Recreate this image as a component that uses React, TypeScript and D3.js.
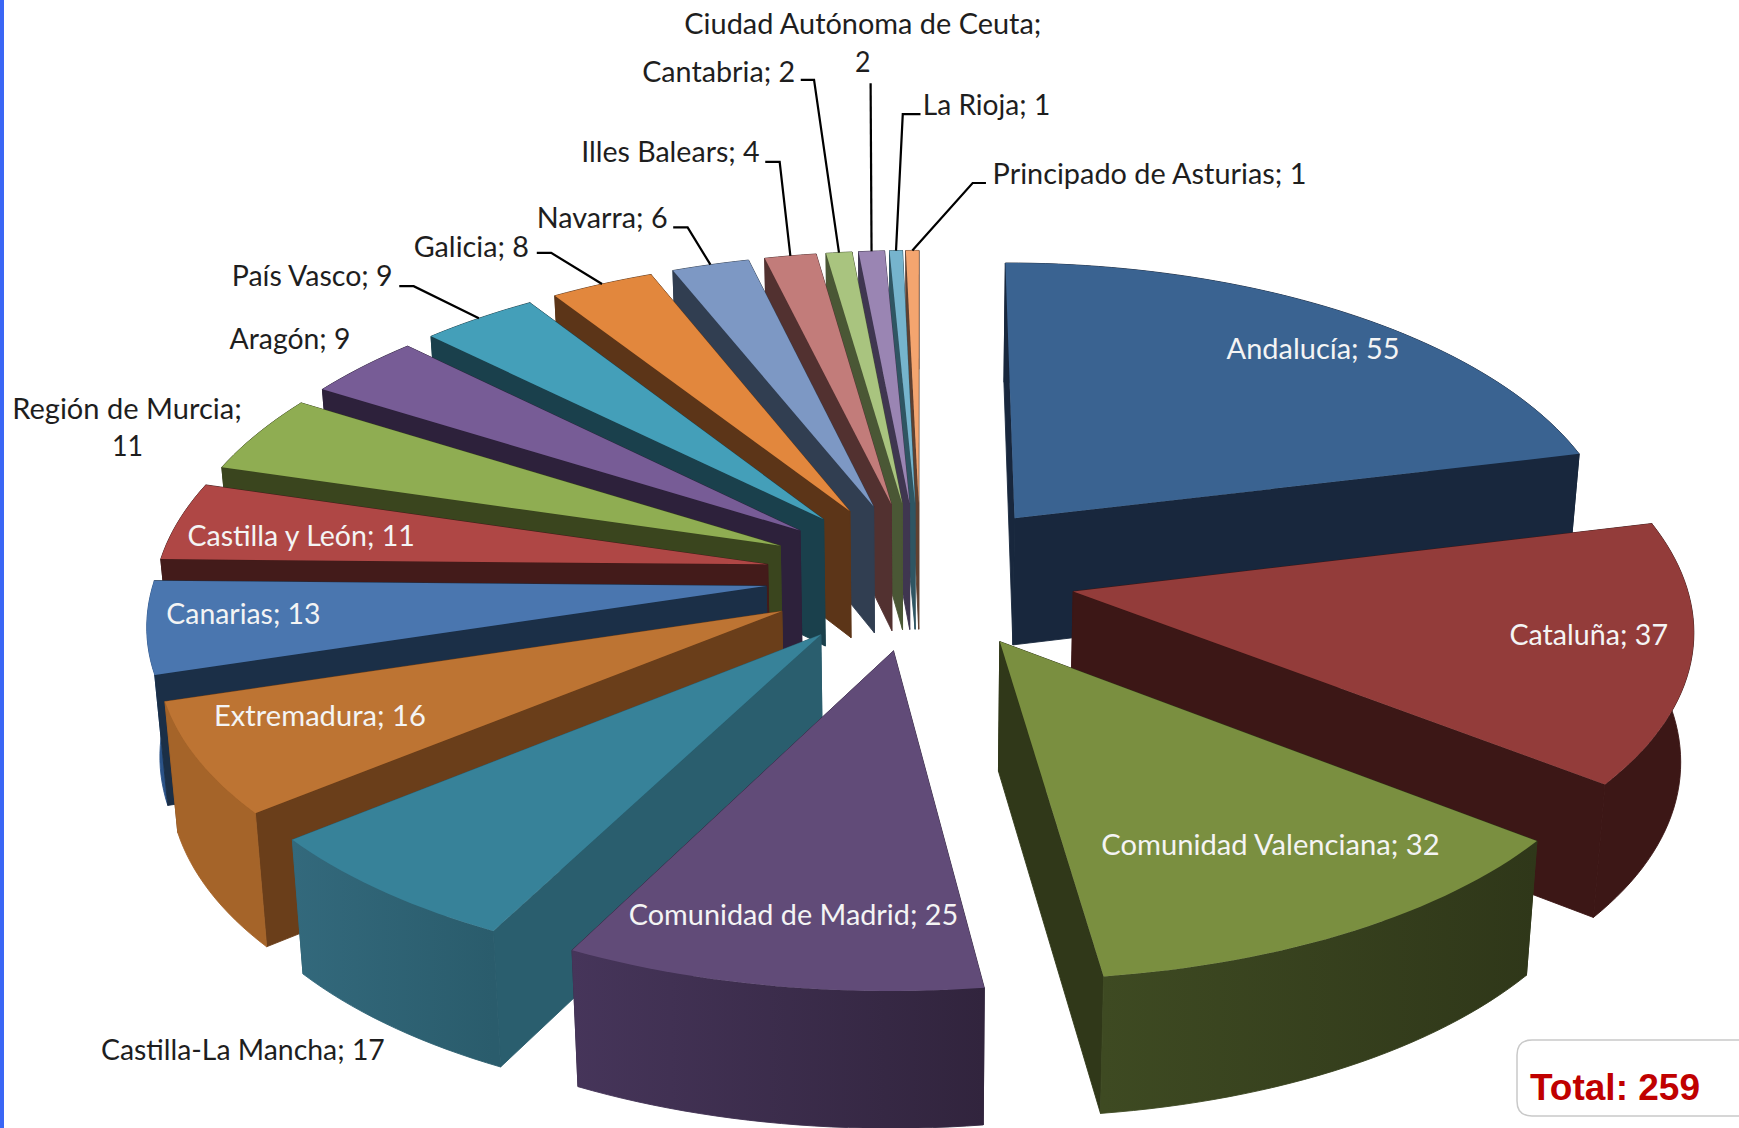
import React from "react";
import * as d3 from "d3";

const regions = ["Andalucía","Cataluña","Comunidad Valenciana","Comunidad de Madrid","Castilla-La Mancha","Extremadura","Canarias","Castilla y León","Región de Murcia","Aragón","País Vasco","Galicia","Navarra","Illes Balears","Cantabria","Ciudad Autónoma de Ceuta","La Rioja","Principado de Asturias"];
const counts = [55,37,32,25,17,16,13,11,11,9,9,8,6,4,2,2,1,1];
const totalLabel = "Total: 259";

const topColors = ["#3A6391","#933C3A","#7A8F40","#614B78","#378299","#BD7433","#4A76AF","#AF4745","#8FAD52","#775C96","#449FB9","#E2873D","#7D98C4","#C27C7A","#A9C47F","#9A85B3","#76B4CD","#F4A56F"];
const wallColors = ["#18273D","#3C1716","#303819","#33263F","#2A5E6E","#6A3E1A","#1B2F47","#431B1A","#3A451E","#2D213B","#1A404C","#5C3518","#313E51","#523130","#4A5735","#3F3650","#2F5562","#5F4030"];
const rimLeft = ["#18273D","#3C1716","#3E4A22","#46355A","#33697C","#A56429","#2A5288","#431B1A","#3A451E","#2D213B","#1A404C","#5C3518","#313E51","#523130","#4A5735","#3F3650","#2F5562","#5F4030"];
const rimRight = ["#18273D","#3C1716","#2F3719","#31243D","#2A5C6C","#A56429","#2A5288","#431B1A","#3A451E","#2D213B","#1A404C","#5C3518","#313E51","#523130","#4A5735","#3F3650","#2F5562","#5F4030"];

// label placement in reduced picture units: [left, baseline, width, white?]
const labelLayout: [string, number, number, number, boolean][] = [
  ["Andalucía; 55",1106,324,156,true],
  ["Cataluña; 37",1361,582,143,true],
  ["Comunidad Valenciana; 32",993,771,305,true],
  ["Comunidad de Madrid; 25",567,834,297,true],
  ["Castilla-La Mancha; 17",91,956,256,false],
  ["Extremadura; 16",193,655,191,true],
  ["Canarias; 13",150,563,139,true],
  ["Castilla y León; 11",169,492,205,true],
  ["Región de Murcia;",11,378,207,false],
  ["11",101,411,28,false],
  ["Aragón; 9",207,315,109,false],
  ["País Vasco; 9",209,258,145,false],
  ["Galicia; 8",373,231.5,104,false],
  ["Navarra; 6",484,205.5,118,false],
  ["Illes Balears; 4",524,146.5,161,false],
  ["Cantabria; 2",579,73.5,138,false],
  ["Ciudad Autónoma de Ceuta;",617,30.5,322,false],
  ["2",771,65,14,false],
  ["La Rioja; 1",832,103.5,115,false],
  ["Principado de Asturias; 1",895,165.5,283,false],
];
// leader elbows: region index and the points the line leaves from
const leaderLayout: [number, [number, number][]][] = [
  [10,[[360,258],[373,258]]],
  [11,[[484,228],[497,228]]],
  [12,[[607,205],[620,205]]],
  [13,[[690,146],[703,146]]],
  [14,[[722,72],[734,72]]],
  [15,[[785,75]]],
  [16,[[830,103],[814,103]]],
  [17,[[889,165],[877,165]]],
];

const W = 1739, H = 1128;
const S = W / 1568;
const CX = 830, CY = 519, EXPLODE = 140, RADIUS = 551;

const project = (X: number, Y: number): [number, number] => {
  const w = 1 - 0.0002 * Y;
  const v = 1 - (Y > 0 ? 0.00017 : 0.00019) * Y;
  return [CX + X / w, CY + (0.48 * Y) / v];
};
const lower = (X: number, Y: number): [number, number] => {
  const [x, y] = project(X, Y);
  return [CX + (x - CX) * 0.983, y + 115.5 + 0.012 * Y];
};

const line = d3.line<[number, number]>().x(d => d[0]).y(d => d[1]);

const arcs = d3.pie<number>().sort(null)(counts);

const slices = arcs.map((a, i) => {
  const mid = (a.startAngle + a.endAngle) / 2;
  const ax = EXPLODE * Math.sin(mid), ay = -EXPLODE * Math.cos(mid);
  const n = Math.max(4, Math.ceil((a.endAngle - a.startAngle) * 40));
  const rim = d3.range(n + 1).map(k => {
    const t = a.startAngle + ((a.endAngle - a.startAngle) * k) / n;
    return [ax + RADIUS * Math.sin(t), ay - RADIUS * Math.cos(t)] as [number, number];
  });
  const rimTop = rim.map(p => project(p[0], p[1]));
  const rimLow = rim.map(p => lower(p[0], p[1]));
  const apexTop = project(ax, ay), apexLow = lower(ax, ay);
  const midWorld: [number, number] = [ax + RADIUS * Math.sin(mid), ay - RADIUS * Math.cos(mid)];
  const face = (pts: [number, number][]) => line(pts) + "Z";
  const walls = [
    { d: face([apexTop, rimTop[0], rimLow[0], apexLow]), fill: wallColors[i], depth: (ay + rim[0][1]) / 2 },
    { d: face([apexTop, rimTop[n], rimLow[n], apexLow]), fill: wallColors[i], depth: (ay + rim[n][1]) / 2 },
    { d: face([...rimTop, ...rimLow.slice().reverse()]), fill: `url(#rim${i})`, depth: midWorld[1] },
  ].sort((p, q) => p.depth - q.depth);
  const xs = rimTop.map(p => p[0]);
  return {
    i, order: -Math.cos(mid), walls,
    top: face([apexTop, ...rimTop]),
    x0: d3.min(xs)!, x1: d3.max(xs)!,
    anchor: project(midWorld[0], midWorld[1]),
  };
});

const ordered = d3.sort(slices, s => s.order);

export default function App() {
  return (
    <svg width={W} height={H} viewBox={`0 0 ${W} ${H}`} style={{ position: "fixed", left: 0, top: 0, display: "block", background: "#fff" }}>
      <rect x={0} y={0} width={4} height={H} fill="#3A66F5" />
      <defs>
        {slices.map(s => (
          <linearGradient key={s.i} id={`rim${s.i}`} gradientUnits="userSpaceOnUse" x1={s.x0} x2={s.x1} y1={0} y2={0}>
            <stop offset="0" stopColor={rimLeft[s.i]} />
            <stop offset="1" stopColor={rimRight[s.i]} />
          </linearGradient>
        ))}
      </defs>
      <g transform={`scale(${S})`}>
        {ordered.map(s => (
          <g key={s.i}>
            {s.walls.map((w, k) => <path key={k} d={w.d} fill={w.fill} stroke={w.fill} strokeWidth={0.8} />)}
            <path d={s.top} fill={topColors[s.i]} />
          </g>
        ))}
        {leaderLayout.map(([idx, pts]) => (
          <path key={idx} d={line([...pts, slices[idx].anchor]) ?? ""} fill="none" stroke="#000" strokeWidth={2} />
        ))}
        {labelLayout.map(([text, x, y, width, white]) => (
          <text key={text + x} x={x} y={y} textLength={width} lengthAdjust="spacingAndGlyphs"
            fontFamily="Lato, 'Open Sans', sans-serif" fontSize={25.5}
            fill={white ? "#F4F4F4" : "#1E1E1E"}>{text}</text>
        ))}
      </g>
      <path d={`M${W + 1},1040 H1532 Q1517,1040 1517,1055 V1101 Q1517,1116 1532,1116 H${W + 1}`} fill="#fff" stroke="#C9C9C9" strokeWidth={1.5} />
      <text x={1530} y={1100} fontFamily="'Liberation Sans', Arial, sans-serif" fontWeight="bold" fontSize={37} fill="#C00000">{totalLabel}</text>
    </svg>
  );
}
